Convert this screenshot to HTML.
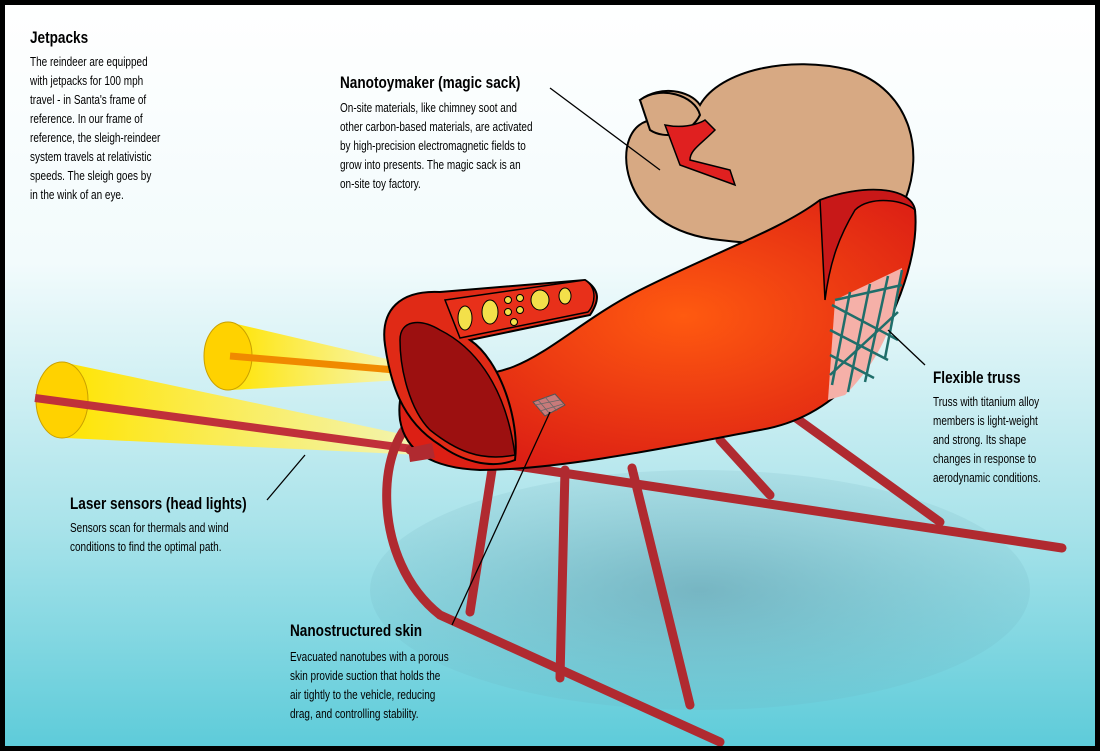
<!DOCTYPE html>
<html><head><style>
html,body{margin:0;padding:0}
body{width:1100px;height:751px;overflow:hidden;font-family:"Liberation Sans",sans-serif}
</style></head><body>
<svg width="1100" height="751" viewBox="0 0 1100 751" xmlns="http://www.w3.org/2000/svg">
<defs>
<linearGradient id="bg" x1="0" y1="0" x2="0" y2="1">
<stop offset="0" stop-color="#ffffff"/><stop offset="0.35" stop-color="#f2fbfc"/><stop offset="0.7" stop-color="#a9e3ea"/><stop offset="1" stop-color="#5ccbd9"/></linearGradient>
<radialGradient id="red" cx="0.55" cy="0.45" r="0.6"><stop offset="0" stop-color="#ff5a10"/><stop offset="1" stop-color="#dc1f14"/></radialGradient>
<linearGradient id="yel" x1="0" y1="0" x2="1" y2="0"><stop offset="0" stop-color="#ffe400"/><stop offset="1" stop-color="#fff6a0" stop-opacity="0.8"/></linearGradient>
<radialGradient id="sh" cx="0.5" cy="0.5" r="0.5"><stop offset="0" stop-color="#5a8fa0" stop-opacity="0.5"/><stop offset="1" stop-color="#6aaab8" stop-opacity="0.15"/></radialGradient>
</defs>
<rect x="0" y="0" width="1100" height="751" fill="url(#bg)"/>
<ellipse cx="700" cy="590" rx="330" ry="120" fill="url(#sh)"/>
<path d="M228,322 L400,362 L402,380 L232,390 Z" fill="url(#yel)"/>
<ellipse cx="228" cy="356" rx="24" ry="34" fill="#ffd200" stroke="#c9a000"/>
<line x1="230" y1="356" x2="395" y2="370" stroke="#f08a00" stroke-width="7"/>
<path d="M62,362 L420,438 L420,455 L66,438 Z" fill="url(#yel)"/>
<ellipse cx="62" cy="400" rx="26" ry="38" fill="#ffd200" stroke="#c9a000"/>
<line x1="35" y1="398" x2="420" y2="450" stroke="#c0303a" stroke-width="8"/>
<g stroke="#b02a30" stroke-width="9" fill="none" stroke-linecap="round">
<path d="M420,415 C375,440 370,560 440,615 L720,742"/>
<path d="M410,450 L1062,548"/>
<line x1="492" y1="470" x2="470" y2="612"/>
<line x1="565" y1="470" x2="560" y2="678"/>
<line x1="632" y1="468" x2="690" y2="705"/>
<line x1="720" y1="440" x2="770" y2="495"/>
<line x1="785" y1="410" x2="940" y2="522"/>
</g>
<path d="M640,100 C660,85 690,90 700,105 C720,70 790,55 850,70 C910,90 925,150 905,200 C880,240 800,250 720,240 C670,235 640,210 630,180 C620,150 630,120 655,120 Z" fill="#d7a983" stroke="#000" stroke-width="2"/>
<path d="M640,100 C660,85 695,95 700,115 C690,135 665,140 650,130 Z" fill="#d7a983" stroke="#000" stroke-width="2"/>
<path d="M665,125 C690,130 705,120 705,120 L715,130 C700,145 690,150 690,160 L730,170 L735,185 L680,165 Z" fill="#e02020" stroke="#000" stroke-width="1.5"/>
<path d="M820,200 C860,185 910,185 915,210 C920,260 890,330 860,370 C830,410 790,425 760,430 C680,445 560,470 480,470 C430,468 405,450 400,420 C395,380 420,360 450,370 C520,390 560,330 640,290 C720,250 780,230 820,200 Z" fill="url(#red)" stroke="#000" stroke-width="2"/>
<path d="M820,200 C860,185 910,185 915,210 C905,200 870,195 855,210 C840,235 830,260 825,300 Z" fill="#c81818" stroke="#000" stroke-width="1.5"/>
<path d="M835,300 L902,268 C898,320 880,360 845,395 L828,400 Z" fill="#f5b0a8"/>
<g stroke="#1f6e6a" stroke-width="2.5">
<line x1="832" y1="305" x2="898" y2="340"/><line x1="830" y1="330" x2="888" y2="360"/><line x1="830" y1="355" x2="874" y2="378"/>
<line x1="850" y1="292" x2="832" y2="385"/><line x1="870" y1="284" x2="848" y2="392"/><line x1="888" y1="276" x2="865" y2="382"/><line x1="902" y1="270" x2="885" y2="358"/>
<line x1="835" y1="300" x2="902" y2="285"/><line x1="830" y1="375" x2="898" y2="312"/>
</g>
<path d="M385,345 C380,310 400,290 440,292 L585,280 C600,290 600,300 590,315 L470,340 C500,360 520,420 515,460 C490,470 460,460 440,445 C400,420 390,380 385,345 Z" fill="#e02a16" stroke="#000" stroke-width="2"/>
<path d="M400,340 C400,320 420,318 440,330 C470,345 505,380 515,455 C480,462 455,450 430,430 C410,410 400,370 400,340 Z" fill="#9c1010" stroke="#000" stroke-width="1.5"/>
<path d="M445,300 L585,280 C598,288 595,305 588,312 L460,338 Z" fill="#e8301a" stroke="#000" stroke-width="1.5"/>
<g fill="#f3e04a" stroke="#000" stroke-width="1">
<ellipse cx="465" cy="318" rx="7" ry="12"/><ellipse cx="490" cy="312" rx="8" ry="12"/><ellipse cx="540" cy="300" rx="9" ry="10"/><ellipse cx="565" cy="296" rx="6" ry="8"/>
<circle cx="508" cy="300" r="3.5"/><circle cx="520" cy="298" r="3.5"/><circle cx="508" cy="312" r="3.5"/><circle cx="520" cy="310" r="3.5"/><circle cx="514" cy="322" r="3.5"/>
</g>
<path d="M408,448 L432,443 L435,458 L410,462 Z" fill="#b02a30"/>
<path d="M533,402 L555,394 L565,405 L545,416 Z" fill="#c87a7a" stroke="#555" stroke-width="1"/>
<g stroke="#666" stroke-width="0.8"><line x1="538" y1="400" x2="550" y2="414"/><line x1="545" y1="397" x2="557" y2="411"/><line x1="535" y1="405" x2="560" y2="400"/><line x1="540" y1="411" x2="563" y2="404"/></g>
<g stroke="#000" stroke-width="1.3">
<line x1="550" y1="88" x2="660" y2="170"/>
<line x1="888" y1="330" x2="925" y2="365"/>
<line x1="267" y1="500" x2="305" y2="455"/>
<line x1="452" y1="625" x2="550" y2="412"/>
</g>
<g font-family="Liberation Sans, sans-serif" fill="#000">
<g transform="translate(30,0) scale(0.8,1)">
<text x="0" y="43" font-size="17" font-weight="bold">Jetpacks</text>
<g font-size="12.5"><text x="0" y="66">The reindeer are equipped</text><text x="0" y="85">with jetpacks for 100 mph</text><text x="0" y="104">travel - in Santa's frame of</text><text x="0" y="123">reference. In our frame of</text><text x="0" y="142">reference, the sleigh-reindeer</text><text x="0" y="161">system travels at relativistic</text><text x="0" y="180">speeds. The sleigh goes by</text><text x="0" y="199">in the wink of an eye.</text></g>
</g>
<g transform="translate(340,0) scale(0.8,1)">
<text x="0" y="88" font-size="17" font-weight="bold">Nanotoymaker (magic sack)</text>
<g font-size="12.5"><text x="0" y="112">On-site materials, like chimney soot and</text><text x="0" y="131">other carbon-based materials, are activated</text><text x="0" y="150">by high-precision electromagnetic fields to</text><text x="0" y="169">grow into presents. The magic sack is an</text><text x="0" y="188">on-site toy factory.</text></g>
</g>
<g transform="translate(933,0) scale(0.8,1)">
<text x="0" y="383" font-size="17" font-weight="bold">Flexible truss</text>
<g font-size="12.5"><text x="0" y="406">Truss with titanium alloy</text><text x="0" y="425">members is light-weight</text><text x="0" y="444">and strong.  Its shape</text><text x="0" y="463">changes in response to</text><text x="0" y="482">aerodynamic conditions.</text></g>
</g>
<g transform="translate(70,0) scale(0.8,1)">
<text x="0" y="509" font-size="17" font-weight="bold">Laser sensors (head lights)</text>
<g font-size="12.5"><text x="0" y="532">Sensors scan for thermals and wind</text><text x="0" y="551">conditions to find the optimal path.</text></g>
</g>
<g transform="translate(290,0) scale(0.8,1)">
<text x="0" y="636" font-size="17" font-weight="bold">Nanostructured skin</text>
<g font-size="12.5"><text x="0" y="661">Evacuated nanotubes with a porous</text><text x="0" y="680">skin provide suction that holds the</text><text x="0" y="699">air tightly to the vehicle, reducing</text><text x="0" y="718">drag, and controlling stability.</text></g>
</g>
</g>
<rect x="2.5" y="2.5" width="1095" height="746" fill="none" stroke="#000" stroke-width="5"/>
</svg>
</body></html>
